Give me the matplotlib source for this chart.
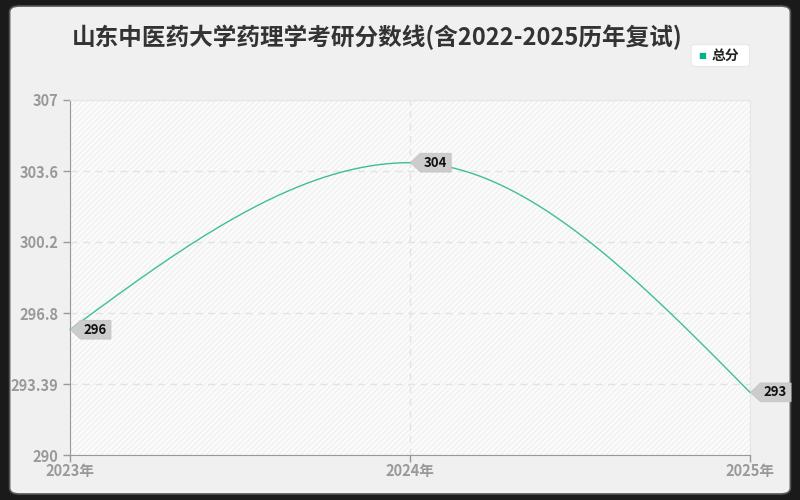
import numpy as np
import matplotlib.pyplot as plt
from matplotlib.patches import FancyBboxPatch
from matplotlib.path import Path

plt.rcParams['font.family'] = ['Noto Sans CJK SC', 'DejaVu Sans']
plt.rcParams['hatch.color'] = '#efefef'
plt.rcParams['hatch.linewidth'] = 0.8

years = [2023, 2024, 2025]
scores = [296, 304, 293]
year_labels = ['2023年', '2024年', '2025年']
y_ticks = [290, 293.39, 296.8, 300.2, 303.6, 307]
title = '山东中医药大学药理学考研分数线(含2022-2025历年复试)'
series_name = '总分'

line_color = '#3dbf95'


# monotone cubic (like d3 curveMonotoneX) just for drawing the smooth line
def monotone_curve(x, y, n=60):
    x = np.asarray(x, float)
    y = np.asarray(y, float)
    h = np.diff(x)
    s = np.diff(y) / h
    m = np.zeros_like(y)
    for i in range(1, len(x) - 1):
        if s[i - 1] * s[i] > 0:
            p = (s[i - 1] * h[i] + s[i] * h[i - 1]) / (h[i - 1] + h[i])
            m[i] = (np.sign(s[i - 1]) + np.sign(s[i])) * min(abs(s[i - 1]), abs(s[i]), 0.5 * abs(p))
    m[0] = (3 * s[0] - m[1]) / 2
    m[-1] = (3 * s[-1] - m[-2]) / 2
    xs, ys = [], []
    for i in range(len(x) - 1):
        t = np.linspace(0, 1, n)
        h00 = 2 * t**3 - 3 * t**2 + 1
        h10 = t**3 - 2 * t**2 + t
        h01 = -2 * t**3 + 3 * t**2
        h11 = t**3 - t**2
        xs.append(x[i] + t * h[i])
        ys.append(h00 * y[i] + h10 * h[i] * m[i] + h01 * y[i + 1] + h11 * h[i] * m[i + 1])
    return np.concatenate(xs), np.concatenate(ys)


# label tag: box with a small pointer on its left side
def tag_box(x0, y0, width, height, mutation_size):
    padx, pady = 0.35 * mutation_size, 0.18 * mutation_size
    x0, x1 = x0 - padx * 0.6, x0 + width + padx
    y0, y1 = y0 - pady, y0 + height + pady
    tip = 0.75 * mutation_size
    ym = (y0 + y1) / 2
    return Path([(x0, y0), (x1, y0), (x1, y1), (x0, y1), (x0 - tip, ym), (x0, y0)], closed=True)


fig = plt.figure(figsize=(8, 5), dpi=100, facecolor='#1a1a1a')
fig.patches.append(FancyBboxPatch((0.012, 0.012), 0.976, 0.976, boxstyle='round,pad=0,rounding_size=0.012',
                                  transform=fig.transFigure, facecolor='#f0f0f0', edgecolor='#555555',
                                  linewidth=1.2, zorder=-10))

ax = fig.add_axes([0.0875, 0.09, 0.85, 0.71])
ax.set_facecolor('#fbfbfb')
ax.add_patch(plt.Rectangle((0, 0), 1, 1, transform=ax.transAxes, facecolor='none',
                           hatch='//////', linewidth=0, zorder=0))

cx, cy = monotone_curve(years, scores)
ax.plot(cx, cy, color=line_color, linewidth=1.0, zorder=3, clip_on=False)

ax.set_xlim(2023, 2025)
ax.set_ylim(290, 307)
ax.set_yticks(y_ticks)
ax.set_yticklabels(['290', '293.39', '296.8', '300.2', '303.6', '307'])
ax.set_xticks(years)
ax.set_xticklabels(year_labels)
ax.tick_params(colors='#999999', labelsize=10.5, length=5, width=1)
ax.tick_params(axis='x', pad=1)
for lab in ax.get_xticklabels() + ax.get_yticklabels():
    lab.set_color('#999999')
    lab.set_fontweight('bold')

ax.grid(True, color='#e3e3e3', linestyle=(0, (5, 4)), linewidth=1)
for side in ['top', 'right']:
    ax.spines[side].set_color('#e6e6e6')
for side in ['left', 'bottom']:
    ax.spines[side].set_color('#999999')

for x, y in zip(years, scores):
    ax.annotate(str(y), (x, y), xytext=(9.5, 0), textcoords='offset points', ha='left', va='center',
                fontsize=9.5, fontweight='bold', color='#111111', zorder=5, annotation_clip=False,
                bbox=dict(boxstyle=tag_box, facecolor='#cccccc', edgecolor='#c4c4c4', linewidth=0.6))

fig.text(0.472, 0.926, title, ha='center', va='center', fontsize=17, fontweight='bold', color='#333333')

fig.patches.append(FancyBboxPatch((0.864, 0.867), 0.073, 0.044, boxstyle='round,pad=0,rounding_size=0.006',
                                  transform=fig.transFigure, facecolor='white', edgecolor='#e8e8e8',
                                  linewidth=0.8, zorder=1))
fig.text(0.878, 0.889, '■', ha='center', va='center', fontsize=6, color='#00b386', family='DejaVu Sans')
fig.text(0.89, 0.889, series_name, ha='left', va='center', fontsize=10, fontweight='bold', color='#222222')

fig.savefig('out.png', dpi=100, facecolor=fig.get_facecolor())
